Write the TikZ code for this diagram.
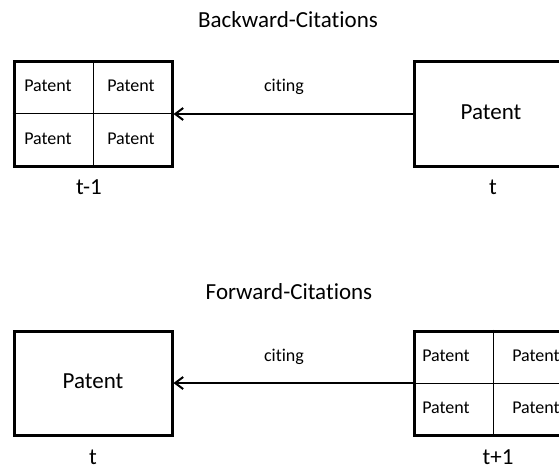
\documentclass[tikz,border=0pt]{standalone}
\usepackage{fontspec}
\setmainfont{Carlito}[Ligatures={NoCommon}]
\usetikzlibrary{arrows.meta}

\tikzset{
	patbox/.style={draw, line width=3pt, minimum width=158pt, minimum height=104pt, inner sep=0pt},
	gridline/.style={line width=1pt},
	citearrow/.style={line width=2pt, -{Straight Barb[length=8pt,width=12pt,line width=2pt]}},
	smalltext/.style={font=\fontsize{18}{20}\selectfont, inner sep=0pt},
	bigtext/.style={font=\fontsize{23}{26}\selectfont, inner sep=0pt}
}

\begin{document}
\begin{tikzpicture}[x=1pt, y=-1pt]
	\clip (0,0) rectangle (559,468);

	% backward citations
	\node[bigtext] (titleback) at (288,20) {Backward-Citations};
	\node[patbox] (oldgrid) at (93,114) {};
	\draw[gridline] (oldgrid.north) -- (oldgrid.south);
	\draw[gridline] (oldgrid.west) -- (oldgrid.east);
	\node[smalltext] (oldA) at (48,86) {Patent}; \node[smalltext] (oldB) at (131,86) {Patent};
	\node[smalltext] (oldC) at (48,139) {Patent}; \node[smalltext] (oldD) at (131,139) {Patent};
	\node[bigtext] (oldtime) at (89,187) {t-1};

	\node[patbox] (citer) at (493,114) {};
	\node[bigtext] (citertext) at (491,112) {Patent};
	\node[bigtext] (citertime) at (493,187) {t};

	\draw[citearrow] (citer.west) -- (oldgrid.east);
	\node[smalltext] (citeback) at (284,87) {citing};

	% forward citations
	\node[bigtext] (titlefwd) at (289,292) {Forward-Citations};
	\node[patbox] (cited) at (93,383) {};
	\node[bigtext] (citedtext) at (93,381) {Patent};
	\node[bigtext] (citedtime) at (93,457) {t};

	\node[patbox] (newgrid) at (493,383) {};
	\draw[gridline] (newgrid.north) -- (newgrid.south);
	\draw[gridline] (newgrid.west) -- (newgrid.east);
	\node[smalltext] (newA) at (446,356) {Patent}; \node[smalltext] (newB) at (536,356) {Patent};
	\node[smalltext] (newC) at (446,408) {Patent}; \node[smalltext] (newD) at (536,408) {Patent};
	\node[bigtext] (newtime) at (498,457) {t+1};

	\draw[citearrow] (newgrid.west) -- (cited.east);
	\node[smalltext] (citefwd) at (284,357) {citing};
\end{tikzpicture}
\end{document}
